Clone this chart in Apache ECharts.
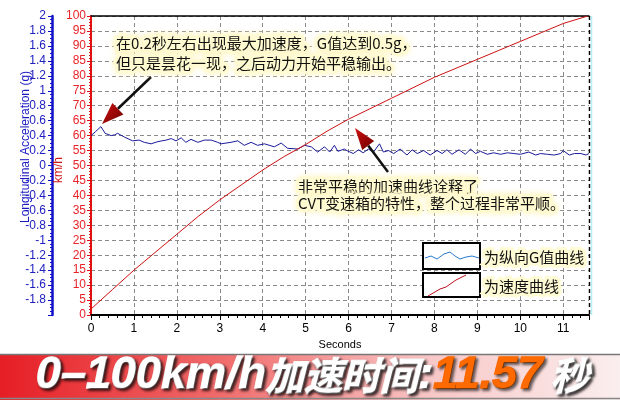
<!DOCTYPE html>
<html><head><meta charset="utf-8">
<script src="https://cdn.jsdelivr.net/npm/echarts@6/dist/echarts.min.js"></script>
<style>html,body{margin:0;padding:0;background:#fff}#c{width:620px;height:400px}</style>
</head><body><div id="c"></div>
<script>
// ---- data ----
const gTime = [0.00,0.10,0.23,0.33,0.47,0.55,0.62,0.78,0.97,1.12,1.24,1.40,1.56,1.75,1.87,1.98,2.10,2.21,2.33,2.49,2.64,2.80,2.95,3.03,3.26,3.42,3.57,3.73,3.88,4.04,4.27,4.43,4.58,4.82,4.97,5.13,5.28,5.44,5.56,5.67,5.75,5.90,5.96,6.11,6.23,6.34,6.46,6.58,6.72,6.81,6.93,7.05,7.20,7.36,7.48,7.60,7.75,7.90,8.06,8.18,8.29,8.41,8.57,8.72,8.84,8.96,9.07,9.23,9.38,9.54,9.70,9.85,10.00,10.20,10.36,10.47,10.63,10.79,10.94,11.00,11.14,11.26,11.41,11.53,11.60];
const gValue = [0.40,0.45,0.52,0.43,0.40,0.41,0.43,0.38,0.33,0.34,0.31,0.29,0.32,0.34,0.36,0.33,0.37,0.31,0.35,0.31,0.34,0.34,0.31,0.29,0.31,0.33,0.27,0.31,0.27,0.29,0.25,0.30,0.23,0.22,0.27,0.25,0.18,0.25,0.18,0.27,0.19,0.22,0.20,0.16,0.21,0.17,0.22,0.18,0.29,0.18,0.20,0.16,0.22,0.14,0.21,0.16,0.20,0.14,0.20,0.16,0.21,0.15,0.21,0.15,0.22,0.16,0.19,0.15,0.17,0.15,0.17,0.16,0.15,0.18,0.14,0.16,0.15,0.14,0.16,0.20,0.14,0.16,0.16,0.14,0.16];
const speedTime = [0,0.5,1,1.5,2,2.5,3,3.5,4,4.5,5,5.5,6,6.5,7,7.5,8,8.5,9,9.5,10,10.5,11,11.57];
const speedValue = [2,8.5,15,21,27,33,38.5,43.5,48.5,53,57,61.5,65.5,69,72.5,76,79.5,82.5,85.5,88.5,91.5,94.5,97.5,100];
const xRange = [0, 11.6];
const speedRange = [0, 100];
const gRange = [-2, 2];
const note1 = '在0.2秒左右出现最大加速度，G值达到0.5g，\n但只是昙花一现，之后动力开始平稳输出。';
const note2 = '非常平稳的加速曲线诠释了\nCVT变速箱的特性，整个过程非常平顺。';
const legendNames = ['为纵向G值曲线', '为速度曲线'];
const bannerParts = ['0–100km/h', '加速时间', ':', '11.57', ' 秒'];

const gData = gTime.map((t, i) => [t, gValue[i]]);
const speedData = speedTime.map((t, i) => [t, speedValue[i]]);

const chart = echarts.init(document.getElementById('c'), null, {renderer: 'canvas'});
const latin = 'Liberation Sans, Arial, sans-serif';
const cjk = '"Noto Sans CJK SC", sans-serif';
const dash = [4, 3];
const halo = 'rgba(255,251,212,1)';

function arrow(tail, tip, headLen, headW) {
  const dx = tip[0] - tail[0], dy = tip[1] - tail[1];
  const L = Math.hypot(dx, dy), ux = dx / L, uy = dy / L;
  const bx = tip[0] - ux * headLen, by = tip[1] - uy * headLen;
  const nx = -uy, ny = ux;
  return [
    {type: 'line', z: 20, shape: {x1: tail[0], y1: tail[1], x2: bx, y2: by}, style: {stroke: '#111', lineWidth: 2.5}},
    {type: 'polygon', z: 21, shape: {points: [tip, [bx + nx * headW / 2, by + ny * headW / 2], [bx - nx * headW / 2, by - ny * headW / 2]]},
      style: {fill: new echarts.graphic.LinearGradient(0, 0, 1, 1, [{offset: 0, color: '#d01010'}, {offset: 1, color: '#6a0000'}])}}
  ];
}

function noteText(x, y, text, lh) {
  return {type: 'text', z: 22, x: x, y: y,
    style: {text: text, fill: '#111', fontSize: 15, fontFamily: cjk, lineHeight: lh, verticalAlign: 'top',
      stroke: halo, lineWidth: 6, textShadowColor: 'rgba(255,245,190,0.9)', textShadowBlur: 6}};
}

const option = {
  backgroundColor: '#fff',
  animation: false,
  grid: {left: 91, right: 31, top: 16, bottom: 85},
  xAxis: [{
    type: 'value', min: xRange[0], max: xRange[1], interval: 1, position: 'bottom',
    axisLine: {onZero: false, lineStyle: {color: '#000', width: 2}},
    axisTick: {show: true, length: 5, lineStyle: {color: '#000'}},
    minorTick: {show: true, splitNumber: 5, length: 3, lineStyle: {color: '#000'}},
    axisLabel: {color: '#000', fontSize: 12, fontFamily: latin, margin: 8, showMaxLabel: false},
    splitLine: {show: true, lineStyle: {color: '#8a8a8a', type: dash, width: 1}},
    name: 'Seconds', nameLocation: 'middle', nameGap: 21,
    nameTextStyle: {color: '#000', fontSize: 11, fontFamily: latin}
  }, {
    type: 'value', min: xRange[0], max: xRange[1], position: 'top',
    axisLine: {onZero: false, lineStyle: {color: '#000', width: 1.5}},
    axisTick: {show: false}, axisLabel: {show: false}, splitLine: {show: false}
  }],
  yAxis: [{
    type: 'value', min: speedRange[0], max: speedRange[1], interval: 5, position: 'left', offset: 0,
    axisLine: {show: true, onZero: false, lineStyle: {color: '#e01010', width: 2}},
    axisTick: {show: true, length: 4, lineStyle: {color: '#e01010'}},
    minorTick: {show: true, splitNumber: 5, length: 2, lineStyle: {color: '#e01010'}},
    axisLabel: {color: '#e8242a', fontSize: 12, fontFamily: latin, margin: 5},
    splitLine: {show: true, lineStyle: {color: '#8a8a8a', type: dash, width: 1}}
  }, {
    type: 'value', min: gRange[0], max: gRange[1], interval: 0.2, position: 'left', offset: 39,
    axisLine: {show: true, onZero: false, lineStyle: {color: '#1010c8', width: 2.5}},
    axisTick: {show: true, length: 4, lineStyle: {color: '#1010c8'}},
    minorTick: {show: true, splitNumber: 4, length: 2, lineStyle: {color: '#1010c8'}},
    axisLabel: {color: '#2020c0', fontSize: 12, fontFamily: latin, margin: 6,
      formatter: v => (v < gRange[0] + 0.01 ? '' : String(Math.round(v * 10) / 10))},
    splitLine: {show: false}
  }],
  series: [{
    type: 'line', name: 'G', xAxisIndex: 0, yAxisIndex: 1, data: gData, symbol: 'none',
    lineStyle: {color: '#1a1a9a', width: 1}, z: 5
  }, {
    type: 'line', name: 'speed', xAxisIndex: 0, yAxisIndex: 0, data: speedData, symbol: 'none',
    lineStyle: {color: '#cc1010', width: 1}, z: 5
  }],
  graphic: [
    // right border
    {type: 'line', z: 3, shape: {x1: 589.5, y1: 16, x2: 589.5, y2: 315}, style: {stroke: '#000', lineWidth: 1.5, lineDash: dash}},
    {type: 'line', z: 3, shape: {x1: 591.5, y1: 16, x2: 591.5, y2: 315}, style: {stroke: '#b8f0f8', lineWidth: 1.5}},
    // axis names
    {type: 'text', z: 10, x: 26, y: 147, rotation: Math.PI / 2,
      style: {text: 'Longitudinal Acceleration (g)', fill: '#1a1ac0', fontSize: 12, fontFamily: latin, align: 'center', verticalAlign: 'middle'}},
    {type: 'text', z: 10, x: 58.5, y: 170, rotation: Math.PI / 2,
      style: {text: 'km/h', fill: '#d01818', fontSize: 12, fontFamily: latin, align: 'center', verticalAlign: 'middle'}},
    // notes
    noteText(116, 33, note1, 20),
    noteText(298, 178, note2, 17),
    ...arrow([151, 77], [102, 124], 22, 16),
    ...arrow([388, 172], [355, 128], 22, 15),
    // legend
    {type: 'rect', z: 20, shape: {x: 423, y: 243, width: 57, height: 26}, style: {fill: '#fff', stroke: '#000', lineWidth: 2}},
    {type: 'polyline', z: 21, shape: {points: [[425,258],[431,256],[437,259],[444,254],[450,252],[455,256],[460,259],[466,257],[472,256],[479,258]]},
      style: {stroke: '#2a7ad0', lineWidth: 1, fill: null}},
    {type: 'rect', z: 20, shape: {x: 423, y: 273, width: 57, height: 24}, style: {fill: '#fff', stroke: '#000', lineWidth: 2}},
    {type: 'polyline', z: 21, shape: {points: [[428,296],[440,289],[446,287],[456,280],[466,275]]},
      style: {stroke: '#c01020', lineWidth: 1, fill: null}},
    {type: 'text', z: 22, x: 484, y: 257,
      style: {text: legendNames[0], fill: '#111', fontSize: 15, fontFamily: cjk, verticalAlign: 'middle', stroke: halo, lineWidth: 6}},
    {type: 'text', z: 22, x: 484, y: 286,
      style: {text: legendNames[1], fill: '#111', fontSize: 15, fontFamily: cjk, verticalAlign: 'middle', stroke: halo, lineWidth: 6}},
    // banner
    {type: 'rect', z: 30, shape: {x: 0, y: 354, width: 620, height: 46},
      style: {fill: new echarts.graphic.LinearGradient(0, 0, 1, 0, [
        {offset: 0, color: '#e61e25'}, {offset: 0.35, color: '#f06a6a'}, {offset: 0.7, color: '#f8c8c8'}, {offset: 1, color: '#fbeeee'}])}},
    {type: 'line', z: 31, shape: {x1: 0, y1: 354.5, x2: 620, y2: 354.5}, style: {stroke: '#777', lineWidth: 1.5}},
    {type: 'line', z: 31, shape: {x1: 0, y1: 398.5, x2: 620, y2: 398.5}, style: {stroke: '#888', lineWidth: 1.5}},
    {type: 'text', z: 32, x: 36, y: 376,
      style: {
        text: '{n|' + bannerParts[0] + '}{c|' + bannerParts[1] + '}{n|' + bannerParts[2] + '}{o|' + bannerParts[3] + '}{c|' + bannerParts[4] + '}',
        verticalAlign: 'middle',
        rich: {
          n: {fontSize: 45, fontWeight: 'bold', fontStyle: 'italic', fontFamily: latin, fill: '#fff', stroke: '#fff', lineWidth: 1.5,
            textShadowColor: 'rgba(0,0,0,0.75)', textShadowBlur: 3, textShadowOffsetX: 2, textShadowOffsetY: 2},
          c: {fontSize: 38, fontWeight: 'bold', fontStyle: 'italic', fontFamily: cjk, fill: '#fff', stroke: '#fff', lineWidth: 2,
            textShadowColor: 'rgba(0,0,0,0.75)', textShadowBlur: 3, textShadowOffsetX: 2, textShadowOffsetY: 2},
          o: {fontSize: 45, fontWeight: 'bold', fontStyle: 'italic', fontFamily: latin, fill: '#ff6a00', stroke: '#ff6a00', lineWidth: 1.5,
            textShadowColor: 'rgba(0,0,0,0.6)', textShadowBlur: 3, textShadowOffsetX: 2, textShadowOffsetY: 2}
        }
      }}
  ]
};
chart.setOption(option);
</script>
</body></html>
